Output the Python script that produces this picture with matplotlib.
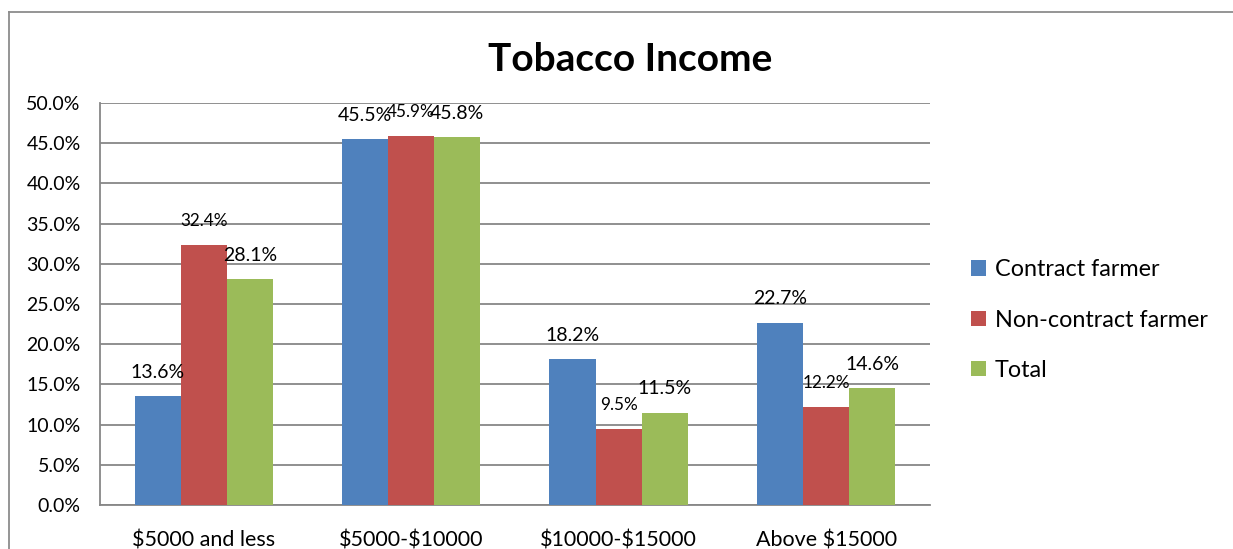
import matplotlib.pyplot as plt
from matplotlib.lines import Line2D
import numpy as np

plt.rcParams['font.family'] = ['Lato', 'DejaVu Sans']

categories = ["\\$5000 and less", "\\$5000-\\$10000", "\\$10000-\\$15000", "Above \\$15000"]
series_names = ["Contract farmer", "Non-contract farmer", "Total"]
contract = [13.6, 45.5, 18.2, 22.7]
non_contract = [32.4, 45.9, 9.5, 12.2]
total = [28.1, 45.8, 11.5, 14.6]
colors = ["#4F81BD", "#C0504D", "#9BBB59"]

fig = plt.figure(figsize=(12.33, 5.49), dpi=100)
ax = fig.add_axes([0.0811, 0.0801, 0.673, 0.7323])

x = np.arange(len(categories))
width = 1 / 4.5
grid_col = "#878787"

for i, vals in enumerate([contract, non_contract, total]):
    pos = x + (i - 1) * width
    ax.bar(pos, vals, width, color=colors[i], label=series_names[i], zorder=3)
    # the non-contract labels came out smaller in the original
    size = 12.3 if i == 1 else 14
    for j, v in enumerate(vals):
        ax.annotate(f"{v:.1f}%", (pos[j], v), xytext=(0, 17), textcoords="offset points",
                    ha="center", va="center", fontsize=size, zorder=4)

ax.set_xlim(-0.5, 3.5)
ax.set_ylim(0, 50)
ax.set_yticks(np.arange(0, 51, 5))
ax.set_yticklabels([f"{t:.1f}%" for t in np.arange(0, 51, 5)], fontsize=14)
ax.set_xticks(x)
ax.set_xticklabels(categories, fontsize=15.5)
ax.tick_params(axis="both", length=0)
ax.tick_params(axis="y", pad=14)
ax.tick_params(axis="x", pad=18)
ax.yaxis.grid(True, color=grid_col, linewidth=1.3, zorder=0)
for s in ["top", "right"]:
    ax.spines[s].set_visible(False)
for s in ["left", "bottom"]:
    ax.spines[s].set_color(grid_col)
    ax.spines[s].set_linewidth(1.3)

fig.text(0.511, 0.891, "Tobacco Income", ha="center", va="center", fontsize=28, fontweight="bold")

ax.legend(loc="center left", bbox_to_anchor=(1.035, 0.46), frameon=False, fontsize=16.8,
          borderpad=0, handlelength=0.65, handleheight=0.65, handletextpad=0.4, labelspacing=1.25)

# outer chart border
fig.add_artist(Line2D([9 / 1233, 9 / 1233], [0, 1 - 12 / 549], color="#8c8c8c", linewidth=1.3))
fig.add_artist(Line2D([9 / 1233, 1], [1 - 12 / 549, 1 - 12 / 549], color="#8c8c8c", linewidth=1.3))

fig.savefig("out.png", dpi=100)
